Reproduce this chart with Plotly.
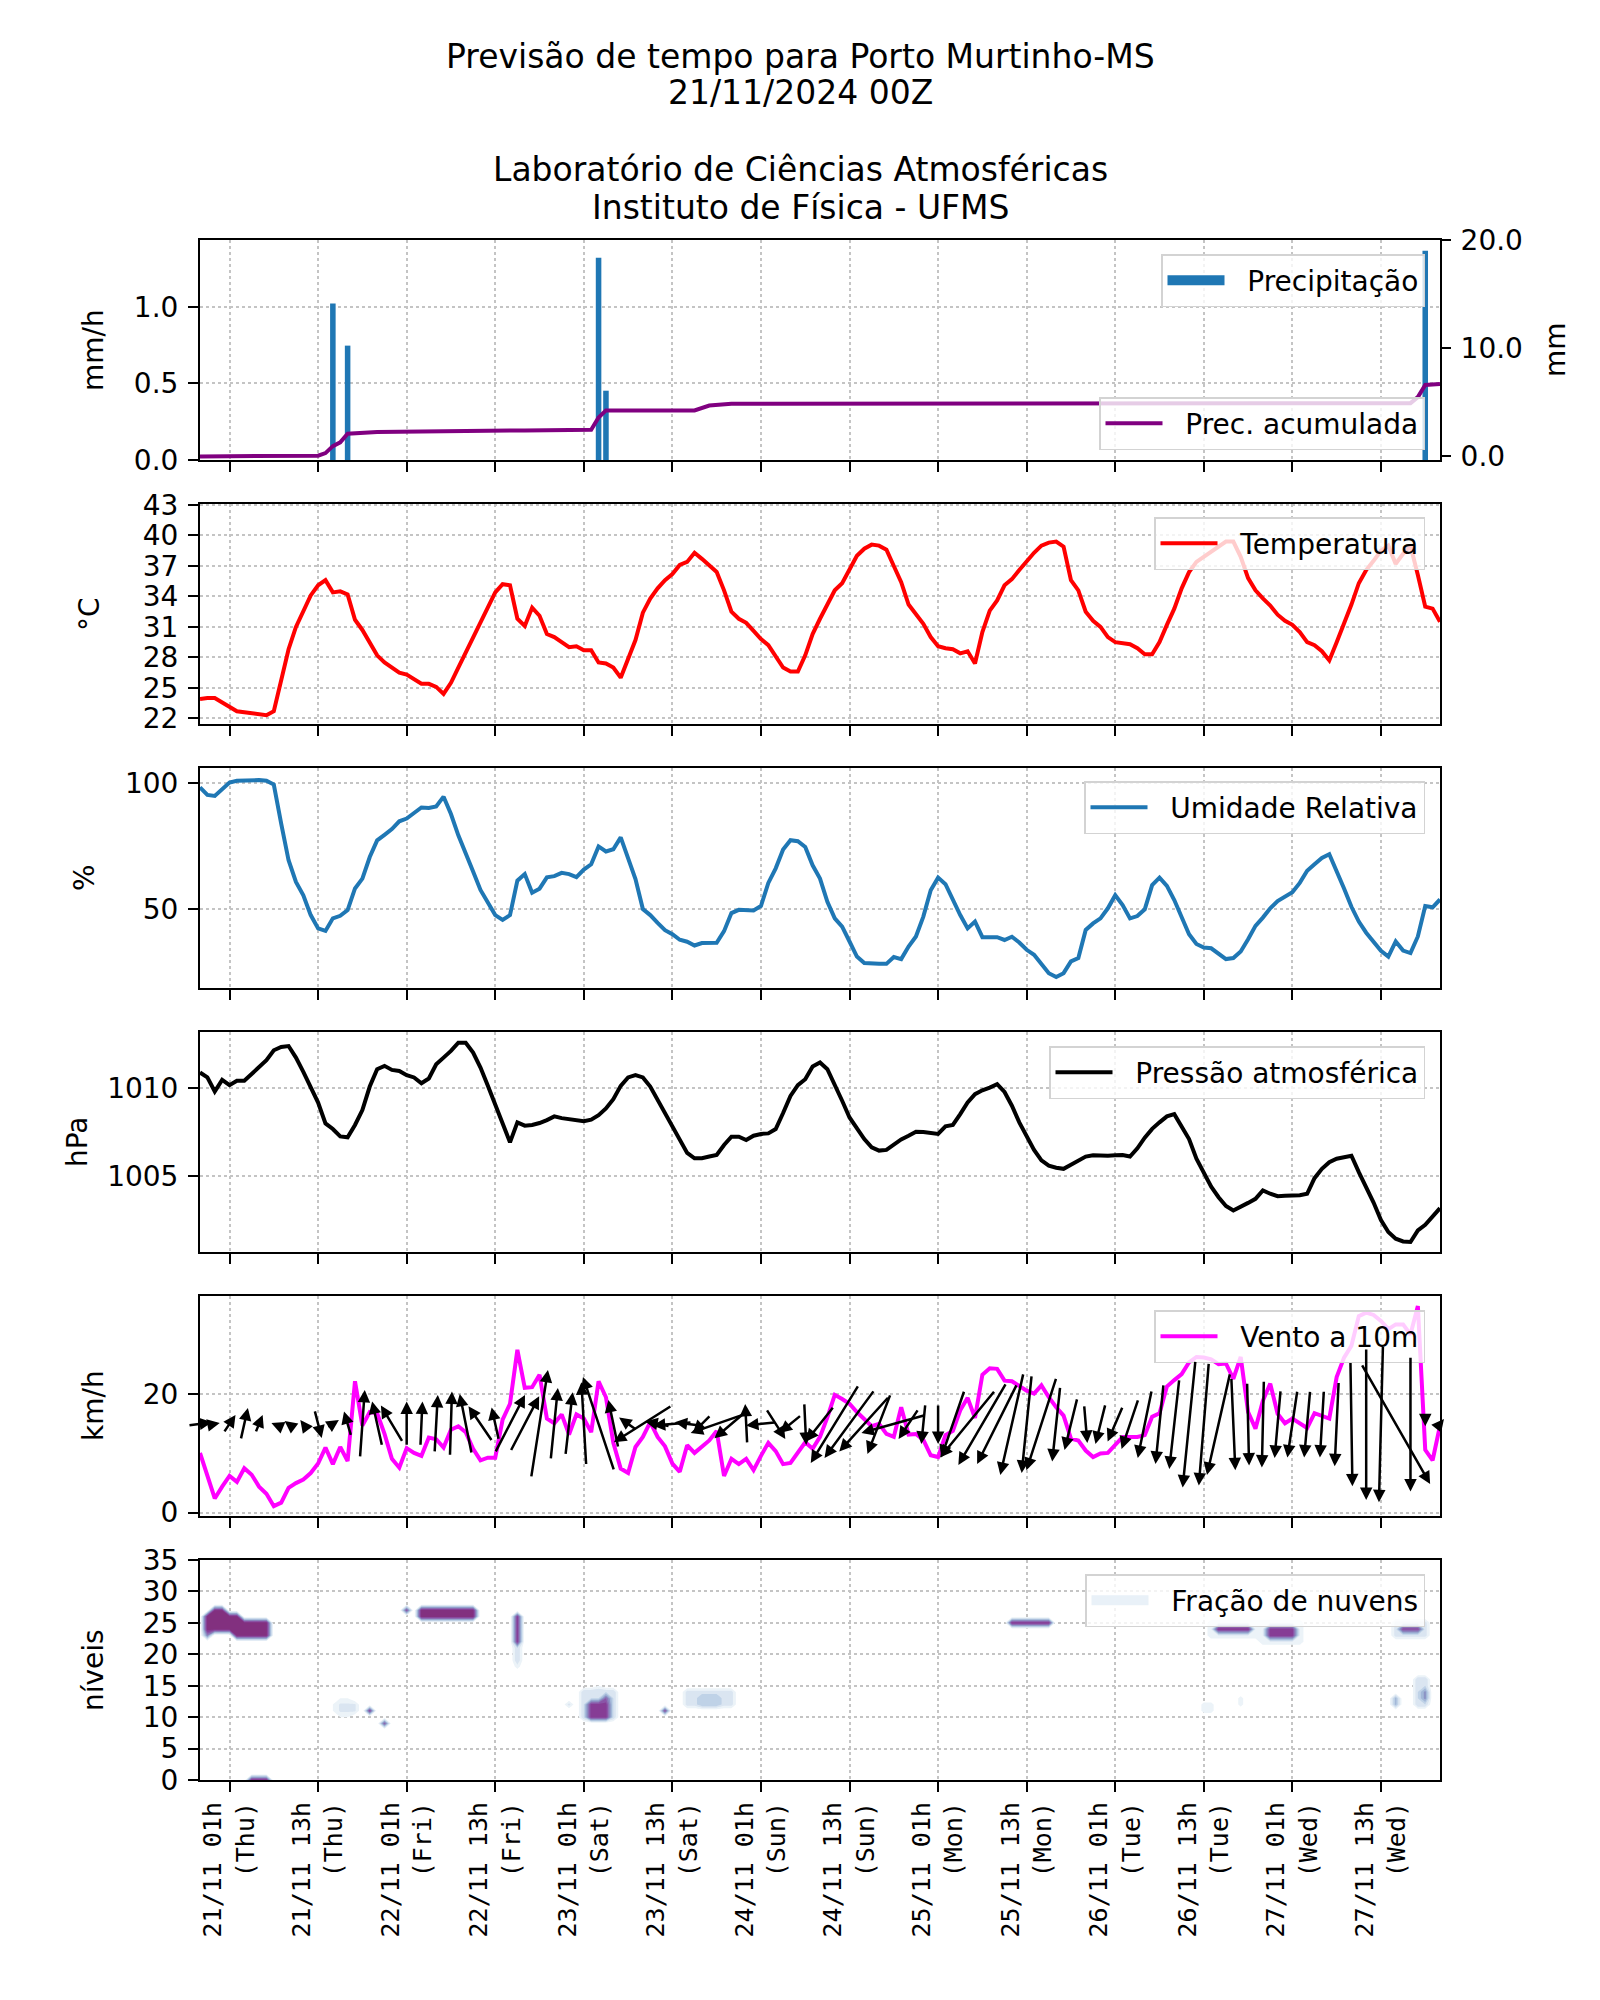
import plotly.graph_objects as go

# ---------------- data (hours since 21/11/2024 00Z; local = UTC-3) ----------------
tick_hours = [4, 16, 28, 40, 52, 64, 76, 88, 100, 112, 124, 136, 148, 160]
tick_labels = ["21/11 01h<br>(Thu)", "21/11 13h<br>(Thu)", "22/11 01h<br>(Fri)", "22/11 13h<br>(Fri)",
               "23/11 01h<br>(Sat)", "23/11 13h<br>(Sat)", "24/11 01h<br>(Sun)", "24/11 13h<br>(Sun)",
               "25/11 01h<br>(Mon)", "25/11 13h<br>(Mon)", "26/11 01h<br>(Tue)", "26/11 13h<br>(Tue)",
               "27/11 01h<br>(Wed)", "27/11 13h<br>(Wed)"]

hours = list(range(169))

precip_hours = [18, 20, 54, 55, 166]
precip_mmh = [1.02, 0.746, 1.32, 0.452, 1.365]

accum_hours = [0, 16, 17, 18, 19, 20, 24, 41, 44, 53, 54, 55, 67, 69, 72, 164, 165, 166, 168]
accum_mm = [0.0, 0.06, 0.3, 0.95, 1.3, 2.1, 2.25, 2.3, 2.4, 2.46, 3.6, 4.25, 4.25, 4.7, 4.86, 4.92, 5.48, 6.6, 6.7]

temperature = [23.9, 24.0, 24.0, 23.6, 23.1, 22.7, 22.6, 22.5, 22.4, 22.3, 22.7, 25.6, 28.8, 31.0, 32.6, 34.1,
               35.1, 35.6, 34.4, 34.5, 34.2, 31.7, 30.7, 29.4, 28.2, 27.5, 27.0, 26.5, 26.3, 25.9, 25.4, 25.4,
               25.1, 24.4, 25.5, 27.0, 28.5, 30.0, 31.5, 33.0, 34.4, 35.2, 35.1, 31.8, 31.1, 32.9, 32.1, 30.3,
               30.0, 29.5, 29.0, 29.1, 28.7, 28.7, 27.5, 27.4, 27.0, 26.0, 27.9, 29.7, 32.4, 33.8, 34.8, 35.6,
               36.2, 37.1, 37.4, 38.3, 37.7, 37.0, 36.4, 34.6, 32.5, 31.8, 31.4, 30.6, 29.8, 29.2, 28.1, 27.0,
               26.6, 26.6, 28.2, 30.3, 31.8, 33.1, 34.6, 35.3, 36.6, 38.0, 38.7, 39.1, 39.0, 38.6, 37.0, 35.4,
               33.2, 32.3, 31.3, 30.0, 29.1, 28.9, 28.8, 28.4, 28.6, 27.4, 30.5, 32.6, 33.6, 35.1, 35.7, 36.6,
               37.5, 38.3, 39.0, 39.3, 39.4, 38.9, 35.6, 34.6, 32.5, 31.6, 31.0, 30.0, 29.5, 29.4, 29.3, 28.9,
               28.3, 28.3, 29.5, 31.2, 32.8, 34.8, 36.4, 37.4, 37.9, 38.3, 38.8, 39.4, 39.4, 37.9, 35.8, 34.6,
               33.8, 33.1, 32.2, 31.6, 31.2, 30.5, 29.5, 29.2, 28.6, 27.7, 29.5, 31.3, 33.2, 35.3, 36.6, 37.5,
               38.5, 39.0, 37.2, 38.2, 39.0, 36.1, 33.0, 32.8, 31.5]

humidity = [98.4, 95.4, 95.0, 97.7, 100.3, 101.0, 101.2, 101.4, 101.3, 101.0, 99.5, 84.0, 69.4, 60.8, 55.5, 47.6,
            42.3, 41.3, 46.3, 47.3, 49.6, 58.2, 62.1, 70.7, 77.3, 79.5, 81.8, 84.9, 86.0, 88.2, 90.4, 90.2,
            90.8, 94.7, 87.8, 79.3, 71.7, 64.9, 57.6, 52.4, 47.6, 45.7, 47.6, 61.3, 63.9, 56.5, 58.1, 62.6,
            63.1, 64.4, 63.9, 62.7, 65.7, 67.8, 74.9, 72.9, 73.8, 78.5, 70.0, 61.9, 50.0, 47.6, 44.5, 41.6,
            40.0, 37.8, 37.0, 35.5, 36.5, 36.6, 36.6, 41.2, 48.4, 49.7, 49.6, 49.4, 51.2, 60.4, 66.2, 73.7,
            77.4, 77.0, 74.7, 67.4, 62.1, 52.9, 46.3, 43.0, 37.1, 31.1, 28.5, 28.2, 28.2, 28.2, 30.9, 30.1,
            35.1, 39.1, 47.0, 57.5, 62.5, 59.9, 53.6, 47.6, 42.3, 45.0, 38.8, 38.8, 38.8, 37.7, 39.0, 36.7,
            33.8, 31.8, 28.2, 24.5, 23.0, 24.5, 29.2, 30.5, 41.7, 44.3, 46.3, 50.3, 55.5, 51.6, 46.3, 47.2,
            49.9, 59.5, 62.5, 59.2, 53.6, 47.0, 40.0, 36.1, 34.7, 34.4, 32.2, 30.1, 30.5, 33.1, 38.0, 43.3,
            46.6, 50.3, 53.2, 54.9, 56.7, 60.4, 65.2, 67.8, 70.3, 71.8, 65.4, 58.2, 50.9, 45.0, 40.6, 37.1,
            33.4, 31.1, 37.1, 33.5, 32.5, 39.1, 51.2, 50.7, 53.8]

pressure = [1010.91, 1010.63, 1009.83, 1010.49, 1010.19, 1010.44, 1010.44, 1010.81, 1011.25, 1011.61, 1012.18,
            1012.37, 1012.42, 1011.76, 1010.95, 1010.11, 1009.20, 1008.01, 1007.69, 1007.27, 1007.22, 1007.92,
            1008.77, 1010.11, 1011.10, 1011.29, 1011.06, 1011.00, 1010.76, 1010.63, 1010.30, 1010.57, 1011.38,
            1011.76, 1012.14, 1012.61, 1012.61, 1012.05, 1011.19, 1010.15, 1009.11, 1007.97, 1006.93, 1008.07,
            1007.88, 1007.92, 1008.03, 1008.20, 1008.41, 1008.31, 1008.26, 1008.16, 1008.13, 1008.22, 1008.48,
            1008.86, 1009.39, 1010.15, 1010.63, 1010.76, 1010.63, 1010.11, 1009.36, 1008.64, 1007.92, 1007.12,
            1006.33, 1006.02, 1006.02, 1006.12, 1006.21, 1006.78, 1007.25, 1007.25, 1007.06, 1007.31, 1007.41,
            1007.44, 1007.69, 1008.60, 1009.58, 1010.19, 1010.53, 1011.25, 1011.48, 1011.10, 1010.25, 1009.30,
            1008.35, 1007.69, 1007.12, 1006.65, 1006.46, 1006.50, 1006.80, 1007.10, 1007.31, 1007.54, 1007.52,
            1007.45, 1007.41, 1007.84, 1007.92, 1008.54, 1009.20, 1009.68, 1009.90, 1010.05, 1010.25, 1009.80,
            1009.02, 1008.07, 1007.30, 1006.50, 1005.90, 1005.60, 1005.48, 1005.42, 1005.65, 1005.89, 1006.12,
            1006.20, 1006.17, 1006.17, 1006.19, 1006.21, 1006.12, 1006.59, 1007.20, 1007.70, 1008.07, 1008.41,
            1008.54, 1007.80, 1007.12, 1006.00, 1005.20, 1004.40, 1003.80, 1003.30, 1003.05, 1003.24, 1003.48,
            1003.71, 1004.19, 1004.00, 1003.86, 1003.88, 1003.90, 1003.92, 1004.00, 1004.89, 1005.42, 1005.80,
            1006.00, 1006.10, 1006.17, 1005.23, 1004.40, 1003.50, 1002.50, 1001.82, 1001.44, 1001.28, 1001.25,
            1001.91, 1002.23, 1002.73, 1003.18]

wind_speed = [10.1, 6.05, 2.4, 4.4, 6.2, 5.2, 7.5, 6.4, 4.4, 3.2, 1.1, 1.7, 4.2, 5.0, 5.6, 6.7, 8.3, 11.0, 8.2,
              11.1, 8.7, 22.2, 14.7, 17.0, 16.8, 13.3, 9.1, 7.6, 10.9, 10.1, 9.6, 12.7, 12.4, 11.0, 14.0, 14.6,
              13.6, 10.8, 8.85, 9.3, 9.3, 15.7, 18.4, 27.5, 21.1, 21.2, 23.3, 15.9, 15.1, 16.6, 13.2, 16.6, 15.9,
              13.6, 22.2, 19.5, 11.8, 7.45, 6.7, 11.1, 12.8, 15.3, 12.8, 11.2, 8.3, 6.9, 11.4, 10.1, 11.2, 12.2,
              13.8, 6.2, 9.1, 8.2, 9.1, 7.2, 9.6, 11.8, 10.4, 8.2, 8.4, 10.3, 11.9, 10.8, 12.8, 16.1, 19.9, 19.2,
              18.4, 17.0, 15.9, 14.6, 15.0, 13.3, 12.8, 17.8, 13.2, 13.3, 12.3, 9.7, 9.4, 13.1, 13.8, 17.3, 19.4,
              16.0, 23.3, 24.4, 24.3, 22.3, 22.2, 21.3, 20.6, 20.1, 21.5, 19.5, 17.8, 16.4, 12.5, 12.2, 10.5, 9.4,
              10.0, 10.1, 11.4, 12.8, 12.8, 12.8, 13.1, 16.2, 16.8, 21.3, 22.4, 23.4, 25.4, 26.3, 26.2, 25.9, 25.1,
              25.2, 22.6, 26.3, 17.0, 14.2, 18.9, 21.8, 16.7, 15.1, 15.9, 15.1, 14.3, 16.8, 16.3, 15.9, 22.9, 26.2,
              28.2, 33.2, 33.8, 33.4, 32.4, 31.0, 31.8, 31.8, 30.1, 34.9, 10.6, 8.85, 14.7]

arrow_hours = list(range(0, 169, 2))
wind_u = [6.0, 2.5, 3.0, 1.8, 1.8, -1.2, -2.0, -1.5, 1.8, 3.0, -1.8, 1.2, -2.5, -5.5, 0.0, 0.5, 0.8, 0.5,
          -3.0, -6.0, -1.8, 7.5, 7.2, 4.2, 1.8, 1.8, -1.2, -7.8, -2.5, -4.5, -14.5, -6.2, -9.8, -6.2, -4.5,
          -13.0, -8.5, -0.5, -7.5, 4.8, -5.5, 0.5, -7.0, -12.0, -12.5, -12.5, -5.8, -16.2, -5.0, -1.0, 0.0,
          -5.8, -13.8, -12.0, -10.0, -5.8, -2.5, -7.5, -2.0, -3.2, 0.8, -2.5, -3.8, -4.2, -3.5, -2.0, -2.5,
          -3.2, -2.5, -5.8, 1.0, 0.5, -0.5, -1.5, -2.5, -1.5, -1.0, -1.0, 0.5, 0.0, -1.0, 17.2, 0.0, 0.0, 2.0]
wind_v = [0.8, 0.5, 4.5, 8.0, 4.5, 0.5, 1.5, 2.0, -7.0, 2.0, 6.2, 17.0, 11.2, 9.2, 11.2, 11.2, 14.5, 16.2,
          15.0, 8.8, 8.2, 14.5, 13.8, 27.0, 18.0, 15.8, 20.8, 23.5, 12.0, 3.2, -9.2, 1.2, -0.8, 0.8, -4.5,
          -4.5, -7.2, 10.0, -0.8, -7.5, -4.5, -10.5, -8.8, -19.5, -17.0, -13.8, -15.0, -4.5, -7.5, -10.0,
          -10.0, -16.8, -16.8, -20.5, -20.0, -25.5, -24.5, -23.2, -18.8, -13.0, -9.5, -10.0, -8.8, -12.5,
          -17.0, -20.0, -22.5, -31.8, -30.8, -25.5, -23.2, -20.8, -21.8, -17.0, -16.8, -16.8, -16.8, -21.2,
          -31.2, -38.0, -39.2, -30.0, -33.8, -1.2, 2.5]

levels = list(range(36))
# cloud fraction regions: (hour_start, hour_end, level_start, level_end, fraction)
cloud_cells = [
    (1, 5, 24, 26, 0.95), (2, 3, 27, 27, 0.9), (5, 9, 23, 25, 0.95), (1, 1, 23, 23, 0.6),
    (7, 9, 0, 0, 0.9),
    (18, 20, 10, 15, 0.1), (19, 21, 11, 12, 0.22), (22, 22, 22, 24, 0.1),
    (23, 23, 11, 11, 0.85), (25, 25, 9, 9, 0.75), (26, 26, 10, 10, 0.1),
    (28, 28, 27, 27, 0.8), (30, 37, 26, 27, 0.95),
    (43, 43, 22, 26, 0.85), (43, 43, 19, 21, 0.3), (43, 43, 18, 18, 0.15), (41, 42, 10, 13, 0.1),
    (54, 54, 15, 18, 0.1), (52, 56, 10, 14, 0.3), (53, 55, 10, 12, 0.85), (55, 55, 13, 13, 0.7),
    (50, 50, 12, 12, 0.25), (63, 63, 11, 11, 0.8), (66, 72, 12, 14, 0.25), (68, 70, 12, 13, 0.4),
    (79, 79, 12, 12, 0.1), (92, 92, 12, 13, 0.1),
    (110, 115, 25, 25, 0.9), (114, 114, 12, 12, 0.1),
    (129, 129, 24, 25, 0.1), (133, 133, 24, 24, 0.1),
    (137, 143, 23, 25, 0.2), (138, 142, 24, 24, 0.9),
    (144, 149, 22, 25, 0.2), (145, 148, 23, 24, 0.85),
    (136, 137, 11, 12, 0.15), (141, 141, 12, 13, 0.15),
    (162, 166, 23, 25, 0.25), (163, 165, 24, 24, 0.8),
    (162, 162, 12, 13, 0.45), (165, 166, 12, 16, 0.3), (166, 166, 13, 14, 0.55),
]

# ---------------- layout geometry (page body margin of 8 px compensated) ----------------
W, H = 1600, 2000
OFF = 8
LEFT, RIGHT = 200 - OFF, 1440 - OFF
TOPS = [240 - OFF, 504 - OFF, 768 - OFF, 1032 - OFF, 1296 - OFF, 1560 - OFF]
PH = 220
XR = [0, 168]
FONT = "DejaVu Sans"
GAP = "\u00a0\u00a0"


def ydom(k):
    top = TOPS[k]
    return [1 - (top + PH) / H, 1 - top / H]


fig = go.Figure()

fig.add_trace(go.Bar(x=precip_hours, y=precip_mmh, width=0.75, marker=dict(color="#1f77b4", line=dict(width=0)),
                     name="Precipitação", xaxis="x", yaxis="y", showlegend=False))
fig.add_trace(go.Scatter(x=[None], y=[None], mode="lines", line=dict(color="#1f77b4", width=16),
                         name=GAP + "Precipitação", xaxis="x", yaxis="y", legend="legend", showlegend=True))
fig.add_trace(go.Scatter(x=accum_hours, y=accum_mm, mode="lines", line=dict(color="#800080", width=4),
                         name=GAP + "Prec. acumulada", xaxis="x", yaxis="y7", legend="legend2"))
fig.add_trace(go.Scatter(x=hours, y=temperature, mode="lines", line=dict(color="#ff0000", width=4),
                         name=GAP + "Temperatura", xaxis="x2", yaxis="y2", legend="legend3"))
fig.add_trace(go.Scatter(x=hours, y=humidity, mode="lines", line=dict(color="#1f77b4", width=4),
                         name=GAP + "Umidade Relativa", xaxis="x3", yaxis="y3", legend="legend4"))
fig.add_trace(go.Scatter(x=hours, y=pressure, mode="lines", line=dict(color="#000000", width=4),
                         name=GAP + "Pressão atmosférica", xaxis="x4", yaxis="y4", legend="legend5"))
fig.add_trace(go.Scatter(x=hours, y=wind_speed, mode="lines", line=dict(color="#ff00ff", width=4),
                         name=GAP + "Vento a 10m", xaxis="x5", yaxis="y5", legend="legend6"))

# cloud field
z = [[0.0 for _ in hours] for _ in levels]
for h0, h1, l0, l1, f in cloud_cells:
    for lv in range(l0, l1 + 1):
        for hh in range(h0, h1 + 1):
            z[lv][hh] = max(z[lv][hh], f)

cloud_scale = [[0.0, "rgba(255,255,255,0)"], [0.08, "rgba(255,255,255,0)"], [0.1, "#eef4f9"],
               [0.25, "#d5e2ef"], [0.4, "#adc6e0"], [0.55, "#8c96c6"], [0.7, "#8c6bb1"],
               [0.85, "#88419d"], [1.0, "#82307f"]]
fig.add_trace(go.Contour(x=hours, y=levels, z=z, zmin=0, zmax=1, colorscale=cloud_scale, showscale=False,
                         contours=dict(start=0.1, end=0.9, size=0.1, coloring="fill", showlines=False),
                         line=dict(width=0, smoothing=0), hoverinfo="skip", xaxis="x6", yaxis="y6",
                         showlegend=False))
fig.add_trace(go.Scatter(x=[None], y=[None], mode="lines", name=GAP + "Fração de nuvens",
                         line=dict(color="#e9f1f8", width=16),
                         xaxis="x6", yaxis="y6", legend="legend7"))

# ---------------- axes ----------------
grid = dict(showgrid=True, gridcolor="#c4c4c4", griddash="dot", gridwidth=1.5)
frame = dict(showline=True, linecolor="black", linewidth=2, mirror=True, zeroline=False, automargin=False,
             ticks="outside", ticklen=10, tickwidth=2, tickcolor="black",
             tickfont=dict(family=FONT, size=28, color="black"))

y_specs = [
    dict(range=[0, 1.435], tickvals=[0.0, 0.5, 1.0], ticktext=["0.0", "0.5", "1.0"]),
    dict(range=[21.44, 43.1], tickvals=[22, 25, 28, 31, 34, 37, 40, 43]),
    dict(range=[18.6, 106.1], tickvals=[50, 100]),
    dict(range=[1000.68, 1013.22], tickvals=[1005, 1010]),
    dict(range=[-0.56, 36.6], tickvals=[0, 20]),
    dict(range=[0, 35], tickvals=[0, 5, 10, 15, 20, 25, 30, 35]),
]

layout_axes = {}
for k in range(6):
    xs = "xaxis" if k == 0 else f"xaxis{k + 1}"
    ys = "yaxis" if k == 0 else f"yaxis{k + 1}"
    anchor_y = "y" if k == 0 else f"y{k + 1}"
    anchor_x = "x" if k == 0 else f"x{k + 1}"
    xa = dict(domain=[LEFT / W, RIGHT / W], range=XR, anchor=anchor_y, tickvals=tick_hours,
              ticktext=tick_labels, showticklabels=(k == 5), **frame, **grid)
    if k == 5:
        xa["tickangle"] = -90
        xa["tickfont"] = dict(family="DejaVu Sans Mono", size=25, color="black")
    if k > 0:
        xa["matches"] = "x"
    layout_axes[xs] = xa
    ya = dict(domain=ydom(k), anchor=anchor_x, ticklabelstandoff=4, **frame, **grid)
    ya.update(y_specs[k])
    layout_axes[ys] = ya

layout_axes["yaxis7"] = dict(overlaying="y", side="right", anchor="x", range=[-0.335, 20],
                             tickvals=[0, 10, 20], ticktext=["0.0", "10.0", "20.0"], showgrid=False,
                             zeroline=False, showline=False, ticks="outside", ticklen=10, tickwidth=2,
                             tickcolor="black", ticklabelstandoff=4, automargin=False,
                             tickfont=dict(family=FONT, size=28, color="black"))

# ---------------- legends ----------------
leg_base = dict(xanchor="right", yanchor="top", x=(1425 - OFF) / W, bgcolor="rgba(255,255,255,0.8)",
                bordercolor="#d3d3d3", borderwidth=1.5, font=dict(family=FONT, size=28, color="black"),
                itemwidth=57, tracegroupgap=0)
legend_tops = {"legend": 254, "legend2": 397, "legend3": 517, "legend4": 781, "legend5": 1046,
               "legend6": 1310, "legend7": 1574}
legends = {name: dict(leg_base, y=1 - (top - OFF) / H) for name, top in legend_tops.items()}

# ---------------- annotations ----------------
ann = []
title_lines = [("Previsão de tempo para Porto Murtinho-MS", 56), ("21/11/2024 00Z", 93),
               ("Laboratório de Ciências Atmosféricas", 170), ("Instituto de Física - UFMS", 208)]
for txt, ypx in title_lines:
    ann.append(dict(text=txt, x=(800 - OFF) / W, y=1 - (ypx - OFF) / H, xref="paper", yref="paper",
                    showarrow=False, xanchor="center", yanchor="middle",
                    font=dict(family=FONT, size=33, color="black")))

ylabels = [("mm/h", 93, 0), ("°C", 90, 1), ("%", 84, 2), ("hPa", 77, 3), ("km/h", 93, 4), ("níveis", 93, 5)]
for txt, xpx, k in ylabels:
    ann.append(dict(text=txt, x=(xpx - OFF) / W, y=1 - (TOPS[k] + PH / 2) / H, xref="paper", yref="paper",
                    showarrow=False, textangle=-90, xanchor="center", yanchor="middle",
                    font=dict(family=FONT, size=28, color="black")))
ann.append(dict(text="mm", x=(1555 - OFF) / W, y=1 - (TOPS[0] + PH / 2) / H, xref="paper", yref="paper",
                showarrow=False, textangle=-90, xanchor="center", yanchor="middle",
                font=dict(family=FONT, size=28, color="black")))

# wind direction arrows (quiver, pivot at middle, drawn at 15 km/h level)
ARROW_LEVEL = 15
QUIVER_PX = 4.0
px_per_h = (RIGHT - LEFT) / (XR[1] - XR[0])
wr = y_specs[4]["range"]
px_per_unit = PH / (wr[1] - wr[0])
for h, u, v in zip(arrow_hours, wind_u, wind_v):
    dxh = u * QUIVER_PX / 2 / px_per_h
    dyv = v * QUIVER_PX / 2 / px_per_unit
    ann.append(dict(x=h + dxh, y=ARROW_LEVEL + dyv, ax=h - dxh, ay=ARROW_LEVEL - dyv,
                    xref="x5", yref="y5", axref="x5", ayref="y5", text="", showarrow=True,
                    arrowhead=2, arrowsize=1.0, arrowwidth=2.5, arrowcolor="black", standoff=0))

fig.update_layout(width=W, height=H, margin=dict(l=0, r=0, t=0, b=0, autoexpand=False), paper_bgcolor="white",
                  plot_bgcolor="white", font=dict(family=FONT, color="black"), barmode="overlay",
                  showlegend=True, annotations=ann, **layout_axes, **legends)

fig.write_html("out.html")
